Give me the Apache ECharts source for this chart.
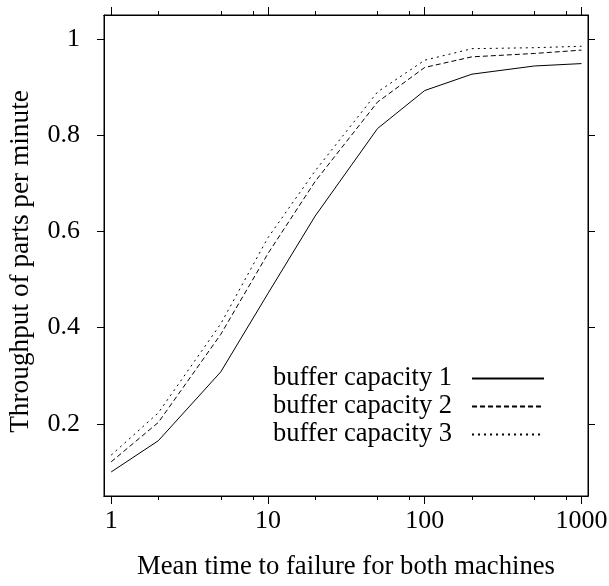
<!DOCTYPE html>
<html><head><meta charset="utf-8">
<script src="https://cdn.jsdelivr.net/npm/echarts@6/dist/echarts.min.js"></script>
<style>html,body{margin:0;padding:0;background:#fff}#c{width:609px;height:586px}</style>
</head><body><div id="c"></div>
<script>
const xValues = [1, 2, 5, 10, 20, 50, 100, 200, 500, 1000];
const cap1 = [0.100, 0.165, 0.308, 0.471, 0.632, 0.814, 0.893, 0.927, 0.944, 0.949];
const cap2 = [0.121, 0.203, 0.386, 0.554, 0.704, 0.869, 0.941, 0.963, 0.970, 0.977];
const cap3 = [0.135, 0.223, 0.408, 0.587, 0.726, 0.890, 0.956, 0.980, 0.982, 0.985];
const seriesNames = ['buffer capacity 1', 'buffer capacity 2', 'buffer capacity 3'];
const xMajorTicks = [1, 10, 100, 1000];
const xMinorTicks = [2, 5, 8, 20, 50, 80, 200, 500, 800];
const yTicks = [0.2, 0.4, 0.6, 0.8, 1];
const xTitle = 'Mean time to failure for both machines';
const yTitle = 'Throughput of parts per minute';

const FONT = 'Liberation Serif';
const FS = 26;
const X_MIN = 0.9, X_MAX = 1100, Y_MIN = 0.05, Y_MAX = 1.05;

function pairs(ys) { return xValues.map((x, i) => [x, ys[i]]); }

function xAxisDef(pos, ticks, len, labels) {
  return {
    type: 'log', logBase: 10, position: pos, min: X_MIN, max: X_MAX, gridIndex: 0,
    axisLine: { show: true, lineStyle: { color: '#000', width: 1 } },
    axisTick: { show: true, inside: false, length: len, customValues: ticks, lineStyle: { color: '#000', width: 1 } },
    axisLabel: labels ? { show: true, customValues: ticks, margin: 12, color: '#000', fontFamily: FONT, fontSize: FS, formatter: v => String(v) } : { show: false },
    splitLine: { show: false }, minorTick: { show: false },
    name: labels ? xTitle : '', nameLocation: 'middle', nameGap: 57,
    nameTextStyle: { color: '#000', fontFamily: FONT, fontSize: 26.7 }
  };
}
function yAxisDef(pos, labels) {
  return {
    type: 'value', position: pos, min: Y_MIN, max: Y_MAX,
    axisLine: { show: true, lineStyle: { color: '#000', width: 1 } },
    axisTick: { show: true, inside: false, length: 7, customValues: yTicks, lineStyle: { color: '#000', width: 1 } },
    axisLabel: labels ? { show: true, customValues: yTicks, margin: 24, color: '#000', fontFamily: FONT, fontSize: FS, formatter: v => String(v) } : { show: false },
    splitLine: { show: false },
    name: labels ? yTitle : '', nameLocation: 'middle', nameGap: 70,
    nameTextStyle: { color: '#000', fontFamily: FONT, fontSize: 27.3, padding: [0, 12, 0, 0] }
  };
}

const dashTypes = ['solid', [5, 3], [2, 4]];
const caps = [cap1, cap2, cap3];

const chart = echarts.init(document.getElementById('c'), null, { renderer: 'canvas' });
chart.setOption({
  animation: false,
  backgroundColor: '#fff',
  grid: { left: 104, right: 21, top: 15, bottom: 90, containLabel: false, outerBoundsMode: 'none', show: true, borderColor: '#000', borderWidth: 1 },
  xAxis: [
    xAxisDef('bottom', xMajorTicks, 8, true),
    xAxisDef('bottom', xMinorTicks, 4, false),
    xAxisDef('top', xMajorTicks, 8, false),
    xAxisDef('top', xMinorTicks, 4, false)
  ],
  yAxis: [yAxisDef('left', true), yAxisDef('right', false)],
  legend: {
    data: seriesNames, orient: 'vertical', align: 'right', left: 268, top: 360,
    itemWidth: 72, itemHeight: 14, itemGap: 1,
    itemStyle: { opacity: 0 },
    textStyle: { color: '#000', fontFamily: FONT, fontSize: 26.5, lineHeight: 26, padding: [0, 15, 0, 0] }
  },
  series: caps.map((c, i) => ({
    name: seriesNames[i], type: 'line', xAxisIndex: 0, yAxisIndex: 0,
    data: pairs(c), showSymbol: false, symbol: 'none',
    lineStyle: { color: '#000', width: 1, type: dashTypes[i] },
    itemStyle: { color: '#000' }
  }))
});
</script></body></html>
